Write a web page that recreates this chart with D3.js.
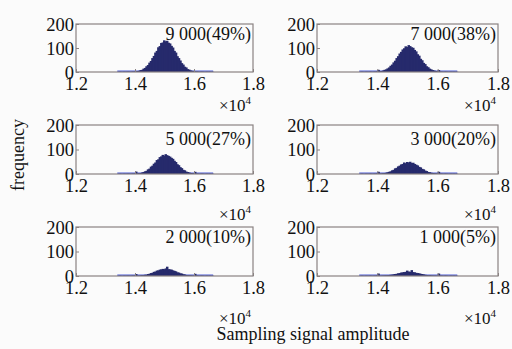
<!DOCTYPE html>
<html><head><meta charset="utf-8">
<script src="https://cdn.jsdelivr.net/npm/d3@7"></script>
<style>body{margin:0;background:#fbfbfb}svg{display:block}</style>
</head><body>
<svg id="c" width="512" height="349"></svg>
<script>
// ---- data ----
const panelLabels = ["9 000(49%)","7 000(38%)","5 000(27%)","3 000(20%)","2 000(10%)","1 000(5%)"];
const xTicks = [1.2,1.4,1.6,1.8];
const yTicks = [0,100,200];
const binStart = 1.34, binWidth = 0.005; // x10^4
const tailL = [0,1,0,0,1,0,1,1,0,1,1,2];
const tailR = [1,1,0,1,1,0,0,1,0,1,0,1];
const core1 = [2,4,5,8,9,14,17,24,29,39,46,58,67,81,88,103,108,121,123,132,128,130,122,119,109,102,88,81,66,58,48,37,31,22,19,12,10,6,5,3,2];
const core2 = [9,3,4,6,9,11,15,19,26,31,40,47,58,66,77,84,94,99,107,104,112,108,103,101,92,86,74,68,55,49,38,33,24,20,14,11,8,6,4,3,8];
const core3 = [10,2,3,4,6,8,11,13,19,22,30,34,42,47,57,60,69,72,78,75,81,77,74,71,66,62,54,49,40,36,28,24,17,15,10,8,6,4,3,2,9];
const core4 = [9,1,2,3,4,5,7,9,11,15,17,23,25,31,34,39,41,47,44,49,47,50,45,46,41,38,35,29,27,21,19,14,12,8,7,5,4,3,2,1,9];
const core5 = [8,1,1,2,3,3,5,5,8,9,12,13,17,18,22,23,26,27,29,28,31,38,28,27,26,23,21,19,15,14,11,10,7,6,4,3,3,2,1,1,9];
const core6 = [10,0,1,1,2,2,3,3,5,5,7,8,9,11,12,14,15,16,17,22,18,17,24,16,15,13,12,11,9,8,6,5,4,3,3,2,1,1,1,0,10];
const counts = [core1,core2,core3,core4,core5,core6].map(c => tailL.concat(c, tailR));

// ---- layout ----
const cols = [[76,253],[317,498]];
const rows = [[24,72],[125,174],[227,276]];
const xExpBase = [111,220,324];
const labelBase = [40,145,243];
const svg = d3.select("#c");
const font = "'Liberation Serif','Times New Roman',serif";
svg.append("rect").attr("width",512).attr("height",349).attr("fill","#fbfbfb");

counts.forEach((vals, i) => {
  const r = Math.floor(i/2), c = i%2;
  const [x0,x1] = cols[c], [y0,y1] = rows[r];
  const x = d3.scaleLinear().domain([1.2,1.8]).range([x0,x1]);
  const y = d3.scaleLinear().domain([0,200]).range([y1,y0]);
  const g = svg.append("g");
  // baseline of histogram extent
  g.append("line")
    .attr("x1", x(binStart)).attr("x2", x(binStart + vals.length*binWidth))
    .attr("y1", y(0)-0.7).attr("y2", y(0)-0.7)
    .attr("stroke","#4d5cd6").attr("stroke-width",1.4);
  g.selectAll("rect.bar").data(vals).join("rect").attr("class","bar")
    .attr("x",(d,j)=>x(binStart + j*binWidth))
    .attr("width", x(binStart+binWidth)-x(binStart)+1)
    .attr("y", d=>y(d)).attr("height", d=>y(0)-y(d))
    .attr("fill","#262a6c").attr("stroke","none");
  // box
  g.append("rect").attr("x",x0).attr("y",y0).attr("width",x1-x0).attr("height",y1-y0)
    .attr("fill","none").attr("stroke","#8a8282").attr("stroke-width",1.2);
  // axes (ticks inward, no domain)
  const ax = g.append("g").attr("transform",`translate(0,${y1})`)
    .call(d3.axisBottom(x).tickValues(xTicks).tickSize(-3).tickPadding(5).tickFormat(d3.format(".1f")));
  ax.select(".domain").remove();
  ax.attr("font-family",font);
  ax.selectAll("line").attr("stroke","#8a8282");
  ax.selectAll("text").attr("font-family",font).attr("font-size",18.5).attr("fill","#111")
    .attr("dy","0.7em");
  const ay = g.append("g").attr("transform",`translate(${x0},0)`)
    .call(d3.axisLeft(y).tickValues(yTicks).tickSize(-3).tickPadding(2));
  ay.select(".domain").remove();
  ay.attr("font-family",font);
  ay.selectAll("line").attr("stroke","#8a8282");
  ay.selectAll("text").attr("font-family",font).attr("font-size",18.5).attr("fill","#111")
    .attr("dy","0.35em");
  // exponent label
  const t = g.append("text").attr("x",x1-2).attr("y",xExpBase[r]).attr("text-anchor","end")
    .attr("font-family",font).attr("font-size",17).attr("fill","#111");
  t.append("tspan").text("×10");
  t.append("tspan").text("4").attr("font-size",11).attr("dy",-7);
  // panel label
  g.append("text").attr("x",x1-2).attr("y",labelBase[r]).attr("text-anchor","end")
    .attr("font-family",font).attr("font-size",18).attr("fill","#111").text(panelLabels[i]);
});

svg.append("text").attr("transform","translate(24,155) rotate(-90)").attr("text-anchor","middle")
  .attr("font-family",font).attr("font-size",18).attr("fill","#111").text("frequency");
svg.append("text").attr("x",313).attr("y",340).attr("text-anchor","middle")
  .attr("font-family",font).attr("font-size",18).attr("fill","#111").text("Sampling signal amplitude");
</script>
</body></html>
